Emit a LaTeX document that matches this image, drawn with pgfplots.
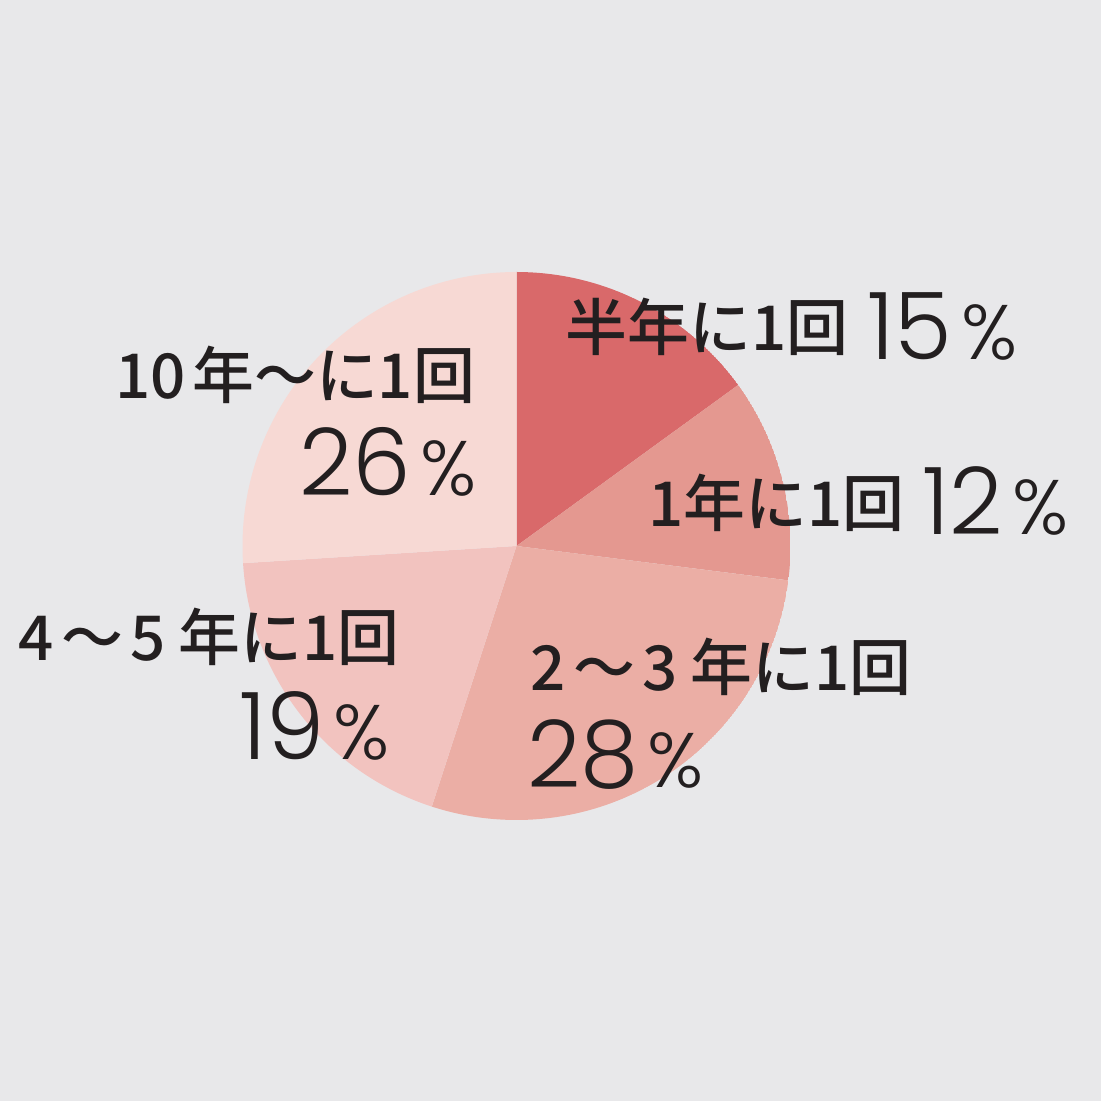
\documentclass[border=0pt]{standalone}
\usepackage{pgfplots}
\pgfplotsset{compat=1.18}
\usepgfplotslibrary{polar}
\usepackage{fontspec}
\setmainfont{Poppins}
\newfontfamily\num{Poppins Light}
\newfontfamily\jp{Noto Sans CJK JP Medium}
\definecolor{bg}{RGB}{232,232,234}
\definecolor{cA}{RGB}{217,105,106}
\definecolor{cB}{RGB}{228,152,144}
\definecolor{cC}{RGB}{235,174,165}
\definecolor{cD}{RGB}{242,195,191}
\definecolor{cE}{RGB}{247,217,212}
\definecolor{txt}{RGB}{35,31,32}
\newcommand{\jl}[1]{{\jp\fontsize{17.6pt}{18pt}\selectfont #1}}
\newcommand{\ws}{\hspace{0.12em}〜\hspace{0.12em}}
\newcommand{\pc}[1]{{\num\fontsize{26.5pt}{27pt}\selectfont #1\hspace{0.1em}{\fontsize{22pt}{23pt}\selectfont\%}}}
\begin{document}
\begin{tikzpicture}
\fill[bg] (-5.165cm,-5.55cm) rectangle (5.845cm,5.46cm);
\useasboundingbox (-5.165cm,-5.55cm) rectangle (5.845cm,5.46cm);
% shares (%): 15, 12, 28, 19, 26 ; clockwise from 90 deg, 3.6 deg per %
\begin{polaraxis}[anchor=origin, at={(0,0)}, hide axis, scale only axis,
  width=5.48cm, height=5.48cm, ymin=0, ymax=1, xmin=0, xmax=360]
\addplot[fill=cA, draw=none, domain=36:90, samples=60] {1} -- (axis cs:0,0) -- cycle;
\addplot[fill=cB, draw=none, domain=-7.2:36, samples=60] {1} -- (axis cs:0,0) -- cycle;
\addplot[fill=cC, draw=none, domain=-108:-7.2, samples=100] {1} -- (axis cs:0,0) -- cycle;
\addplot[fill=cD, draw=none, domain=-176.4:-108, samples=80] {1} -- (axis cs:0,0) -- cycle;
\addplot[fill=cE, draw=none, domain=-270:-176.4, samples=100] {1} -- (axis cs:0,0) -- cycle;
\end{polaraxis}
\begin{scope}[every node/.style={inner sep=0pt, text=txt}]
\node[anchor=base west] at (0.485cm,1.95cm) {\jl{半年に1回}};
\node[anchor=base west] at (3.5cm,1.86cm) {\pc{15}};
\node[anchor=base west] at (1.315cm,0.19cm) {\jl{1年に1回}};
\node[anchor=base west] at (4.05cm,0.11cm) {\pc{12}};
\node[anchor=base west] at (0.135cm,-1.45cm) {\jl{2\ws 3\hspace{0.2em}年に1回}};
\node[anchor=base west] at (0.10cm,-2.42cm) {\pc{28}};
\node[anchor=base west] at (-4.985cm,-1.15cm) {\jl{4\ws 5\hspace{0.2em}年に1回}};
\node[anchor=base west] at (-2.78cm,-2.14cm) {\pc{19}};
\node[anchor=base west] at (-4.015cm,1.47cm) {\jl{10\hspace{0.1em}年〜に1回}};
\node[anchor=base west] at (-2.18cm,0.50cm) {\pc{26}};
\end{scope}
\end{tikzpicture}
\end{document}
